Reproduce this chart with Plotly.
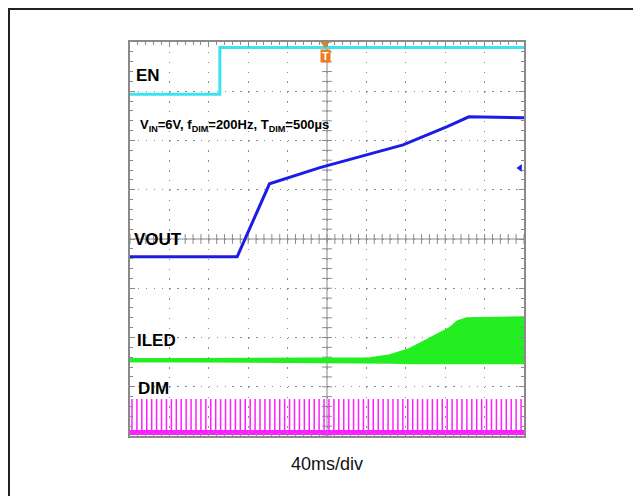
import plotly.graph_objects as go

# ---------------- data (in screen divisions: x 0..10, y 0..8) ----------------
TIME_PER_DIV_MS = 40
DIM_FREQ_HZ = 200
SCREEN_DIVS_X = 10

en_x = [0, 2.28, 2.28, 10]
en_y = [6.94, 6.94, 7.89, 7.89]

vout_x = [0, 2.72, 3.54, 4.82, 6.93, 8.05, 8.60, 10]
vout_y = [3.64, 3.64, 5.12, 5.45, 5.91, 6.28, 6.48, 6.46]

iled_x = [0, 6.09, 6.60, 7.11, 7.44, 7.79, 8.12, 8.32, 8.55, 10]
iled_bottom = [1.54, 1.53, 1.51, 1.50, 1.50, 1.50, 1.50, 1.50, 1.50, 1.50]
iled_top = [1.54, 1.56, 1.62, 1.75, 1.89, 2.03, 2.17, 2.31, 2.37, 2.39]

dim_low = 0.07
dim_high = 0.75
dim_first_pulse_div = 0.05

labels = ["EN", "VOUT", "ILED", "DIM"]
label_x = [0.10, 0.05, 0.12, 0.16]
label_y = [7.31, 3.98, 1.93, 0.97]

# ---------------- figure ----------------
C_EN = "#3ce3ee"
C_VOUT = "#1c1ce6"
C_ILED = "#22ee22"
C_DIM = "#ff1eff"
C_FRAME = "#8a8a8a"
BOLDFONT = "Liberation Sans, Arial, sans-serif"

# page body has an 8px margin; plot area placed so it lands at x 130..524, y 42..436
ML, MR, MT, MB = 122, 117, 34, 60
W, H = 633, 488
PW, PH = W - ML - MR, H - MT - MB

fig = go.Figure()

# center crosshair with tick marks
fig.add_shape(type="line", x0=5, x1=5, y0=0, y1=8, line=dict(color=C_FRAME, width=1), layer="below")
fig.add_shape(type="line", x0=0, x1=10, y0=4, y1=4, line=dict(color=C_FRAME, width=1), layer="below")
fig.add_trace(go.Scatter(
    x=[i * 0.2 for i in range(51)], y=[4] * 51, mode="markers",
    marker=dict(symbol="line-ns", size=7, line=dict(color=C_FRAME, width=1)),
    hoverinfo="skip", showlegend=False))
fig.add_trace(go.Scatter(
    x=[5] * 41, y=[i * 0.2 for i in range(41)], mode="markers",
    marker=dict(symbol="line-ew", size=7, line=dict(color=C_FRAME, width=1)),
    hoverinfo="skip", showlegend=False))

# DIM pulses
period_div = (1000.0 / DIM_FREQ_HZ) / TIME_PER_DIV_MS
n_pulses = int(SCREEN_DIVS_X / period_div)
px, py = [], []
for k in range(n_pulses):
    t = dim_first_pulse_div + k * period_div
    if t > SCREEN_DIVS_X:
        break
    px += [t, t, None]
    py += [dim_low, dim_high, None]
fig.add_trace(go.Scatter(x=px, y=py, mode="lines", line=dict(color=C_DIM, width=1.5),
                         hoverinfo="skip", showlegend=False))
fig.add_trace(go.Scatter(x=[0, SCREEN_DIVS_X], y=[dim_low, dim_low], mode="lines",
                         line=dict(color=C_DIM, width=5), hoverinfo="skip", showlegend=False))

# ILED band
fig.add_trace(go.Scatter(x=iled_x, y=iled_bottom, mode="lines",
                         line=dict(color=C_ILED, width=4), hoverinfo="skip", showlegend=False))
fig.add_trace(go.Scatter(x=iled_x, y=iled_top, mode="lines", fill="tonexty",
                         fillcolor=C_ILED, line=dict(color=C_ILED, width=4),
                         hoverinfo="skip", showlegend=False))

# VOUT
fig.add_trace(go.Scatter(x=vout_x, y=vout_y, mode="lines",
                         line=dict(color=C_VOUT, width=3), hoverinfo="skip", showlegend=False))
# EN
fig.add_trace(go.Scatter(x=en_x, y=en_y, mode="lines",
                         line=dict(color=C_EN, width=3), hoverinfo="skip", showlegend=False, cliponaxis=False))

# trigger marker
fig.add_trace(go.Scatter(x=[4.95], y=[7.96], mode="markers",
                         marker=dict(symbol="triangle-down", size=8, color="#f07820"),
                         hoverinfo="skip", showlegend=False, cliponaxis=False))
fig.add_annotation(x=4.95, y=7.72, text="<b>T</b>", showarrow=False,
                   font=dict(family=BOLDFONT, size=11, color="white"),
                   bgcolor="#f07820", borderpad=0, width=9, height=12)

# channel reference arrow (right side)
fig.add_trace(go.Scatter(x=[9.9], y=[5.44], mode="markers",
                         marker=dict(symbol="triangle-left", size=7, color=C_VOUT),
                         hoverinfo="skip", showlegend=False, cliponaxis=False))

# channel labels
for t, lx, ly in zip(labels, label_x, label_y):
    fig.add_annotation(x=lx, y=ly, text="<b>" + t + "</b>", showarrow=False,
                       xanchor="left", yanchor="middle",
                       font=dict(family=BOLDFONT, size=17, color="black"))

fig.add_annotation(x=0.2, y=6.31, showarrow=False, xanchor="left", yanchor="middle",
                   text="<b>V<sub>IN</sub>=6V, f<sub>DIM</sub>=200Hz, T<sub>DIM</sub>=500µs</b>",
                   font=dict(family=BOLDFONT, size=13, color="black"))

fig.add_annotation(x=0.5, y=-0.07, xref="paper", yref="paper", showarrow=False,
                   xanchor="center", yanchor="middle", text="40ms/div",
                   font=dict(family=BOLDFONT, size=18, color="#111111"))

# outer frame
fig.add_shape(type="rect", xref="paper", yref="paper",
              x0=(1 - ML) / PW, x1=(W + 30 - ML) / PW,
              y0=-(MB + 30) / PH, y1=(PH + MT - 1) / PH,
              line=dict(color="#222222", width=2), fillcolor="rgba(0,0,0,0)", layer="above")

axis_common = dict(showticklabels=False, zeroline=False, showline=True, linecolor=C_FRAME,
                   linewidth=2, mirror="ticks", ticks="inside", ticklen=5, tickcolor=C_FRAME,
                   tickwidth=1, gridcolor="#8c8c8c", gridwidth=1.3)

fig.update_xaxes(range=[0, 10], dtick=1, tick0=0, griddash="1.5px,8.35px",
                 minor=dict(dtick=0.2, ticks="inside", ticklen=3, tickcolor=C_FRAME, showgrid=False),
                 **axis_common)
fig.update_yaxes(range=[0, 8], dtick=1, tick0=0, griddash="1.5px,6.38px",
                 minor=dict(dtick=0.2, ticks="inside", ticklen=3, tickcolor=C_FRAME, showgrid=False),
                 **axis_common)

fig.update_layout(width=W, height=H,
                  margin=dict(l=ML, r=MR, t=MT, b=MB, pad=0),
                  paper_bgcolor="white", plot_bgcolor="white", showlegend=False)

fig.write_html("out.html")
